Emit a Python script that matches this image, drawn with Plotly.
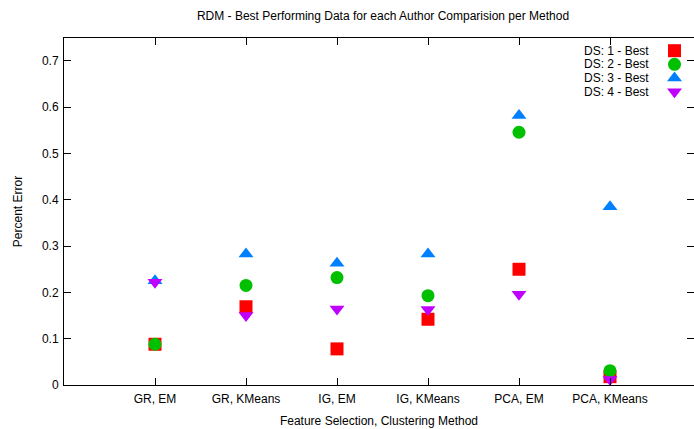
import plotly.graph_objects as go

categories = ["GR, EM", "GR, KMeans", "IG, EM", "IG, KMeans", "PCA, EM", "PCA, KMeans"]
ds1 = [0.088, 0.169, 0.078, 0.142, 0.250, 0.018]
ds2 = [0.088, 0.215, 0.232, 0.193, 0.546, 0.031]
ds3 = [0.225, 0.283, 0.263, 0.283, 0.582, 0.385]
ds4 = [0.222, 0.150, 0.164, 0.163, 0.196, 0.012]
names = ["DS: 1 - Best", "DS: 2 - Best", "DS: 3 - Best", "DS: 4 - Best"]
colors = ["#ff0000", "#00c000", "#0080ff", "#c000ff"]
symbols = ["square", "circle", "triangle-up", "triangle-down"]
series = [ds1, ds2, ds3, ds4]

xpos = list(range(1, len(categories) + 1))
font = "Liberation Sans, Arial, sans-serif"
fs = 12

fig = go.Figure()
for vals, nm, c, s in zip(series, names, colors, symbols):
    fig.add_trace(go.Scatter(x=xpos, y=vals, mode="markers", name=nm,
                             marker=dict(symbol=s, size=13, color=c, line=dict(width=0)),
                             showlegend=False, cliponaxis=False))

# custom legend (text then symbol, gnuplot style) on an overlay axis in pixel units
leg_y = [50.7, 64.3, 78.0, 91.8]
for i, (nm, c, s) in enumerate(zip(names, colors, symbols)):
    fig.add_trace(go.Scatter(x=[674.5], y=[leg_y[i]], mode="markers", xaxis="x2", yaxis="y2",
                             marker=dict(symbol=s, size=13, color=c, line=dict(width=0)),
                             showlegend=False, cliponaxis=False, hoverinfo="skip"))
    fig.add_annotation(x=651, y=leg_y[i], xref="x2", yref="y2", text=nm, showarrow=False,
                       xanchor="right", yanchor="middle", font=dict(size=fs, color="#000", family=font))

fig.update_layout(
    width=694, height=429,
    margin=dict(l=64, r=0, t=38, b=44),
    paper_bgcolor="white", plot_bgcolor="white",
    font=dict(family=font, size=fs, color="#000"),
    title=dict(text="RDM - Best Performing Data for each Author Comparision per Method",
               x=383/694, xref="container", xanchor="center",
               y=1 - 16/429, yref="container", yanchor="middle",
               font=dict(size=fs, color="#000", family=font)),
    xaxis=dict(range=[0, 630/91], tickvals=xpos, ticktext=categories, showgrid=False,
               zeroline=False, showline=True, linecolor="#000", linewidth=1, mirror="ticks",
               ticks="inside", ticklen=7, tickcolor="#000", ticklabelstandoff=3,
               tickfont=dict(size=fs, family=font),
               title=dict(text="Feature Selection, Clustering Method", standoff=11,
                          font=dict(size=fs, family=font))),
    yaxis=dict(range=[0, 0.7496], tickvals=[0, 0.1, 0.2, 0.3, 0.4, 0.5, 0.6, 0.7],
               ticktext=["0", "0.1", "0.2", "0.3", "0.4", "0.5", "0.6", "0.7"],
               showgrid=False, zeroline=False, showline=True, linecolor="#000", linewidth=1,
               mirror="ticks", ticks="inside", ticklen=7, tickcolor="#000",
               tickfont=dict(size=fs, family=font), ticklabelstandoff=2,
               title=dict(text="Percent Error", standoff=16, font=dict(size=fs, family=font))),
    xaxis2=dict(overlaying="x", range=[64, 694], visible=False, fixedrange=True),
    yaxis2=dict(overlaying="y", range=[385, 38], visible=False, fixedrange=True),
)

fig.write_html("out.html")
